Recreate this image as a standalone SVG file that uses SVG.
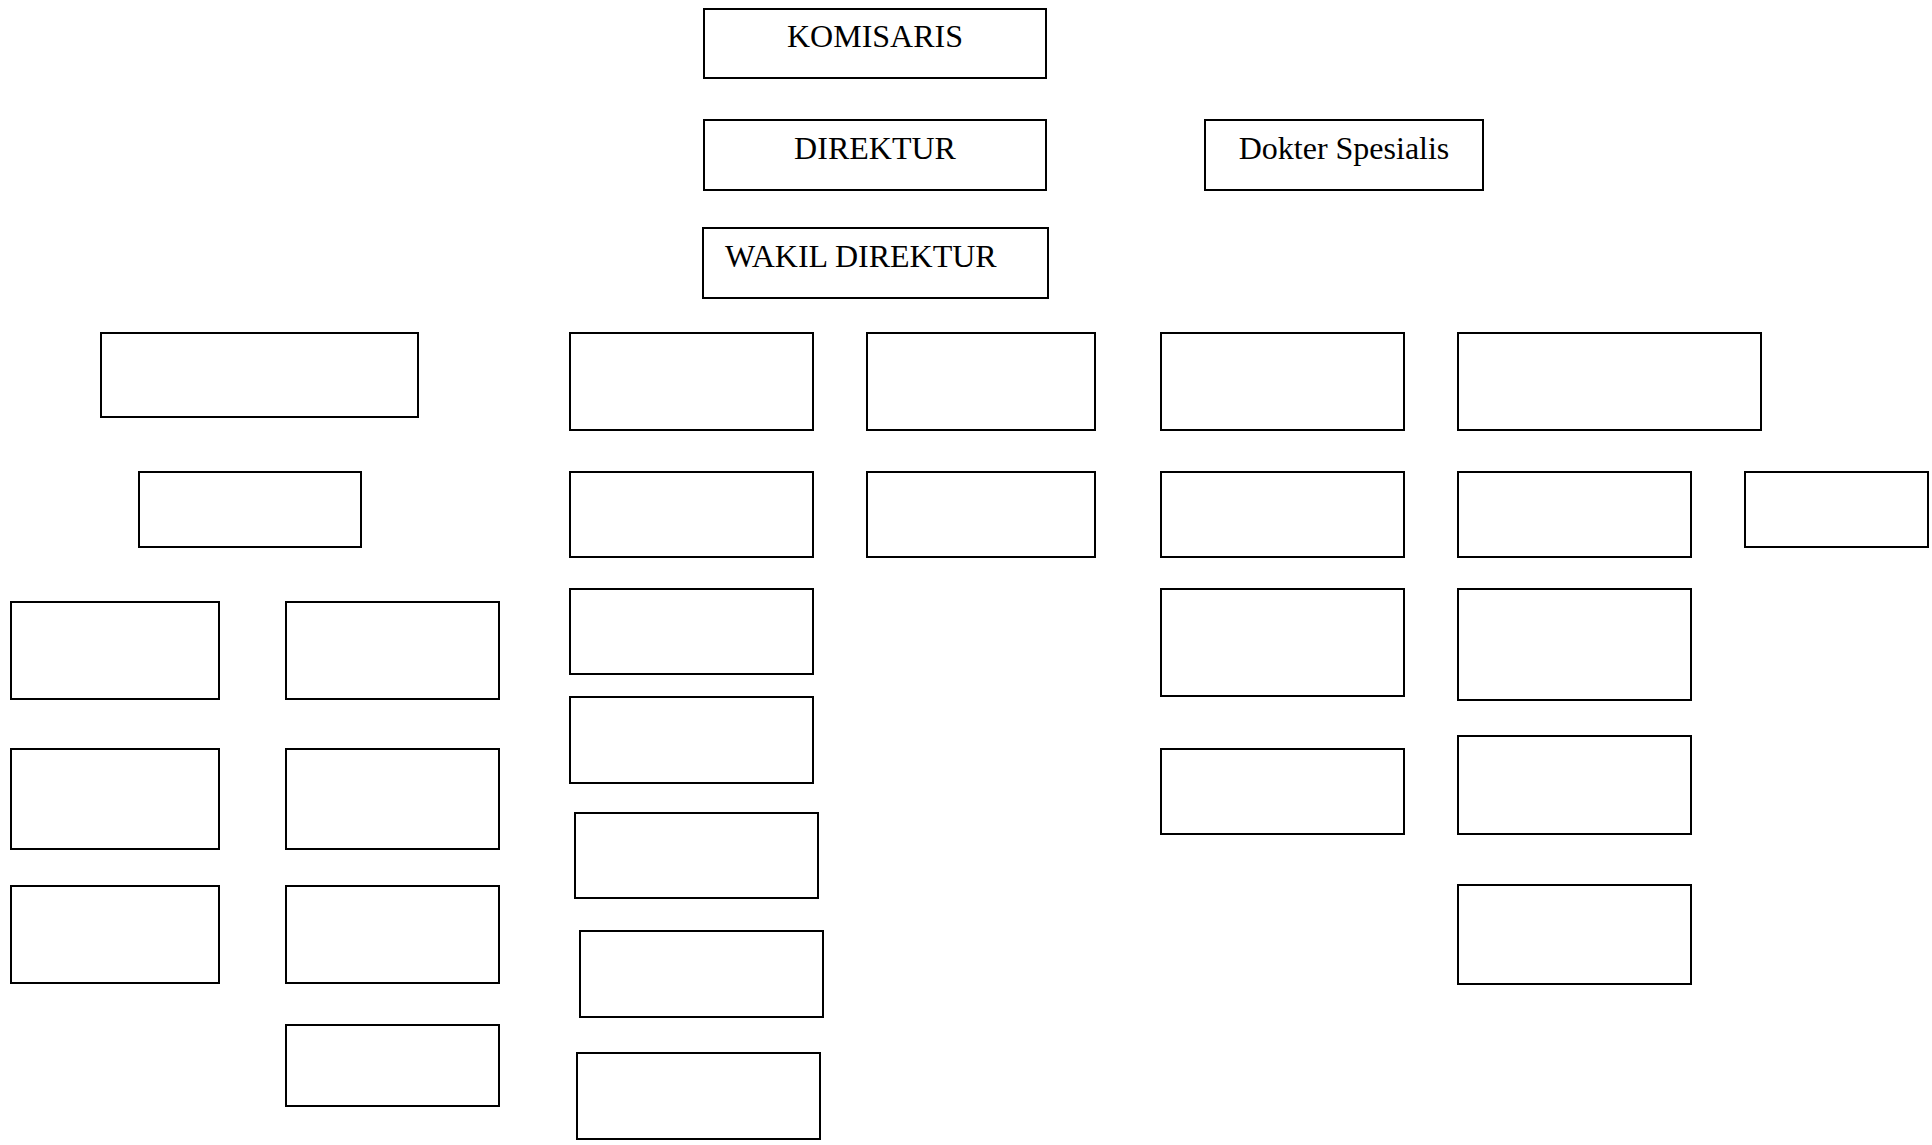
<svg xmlns="http://www.w3.org/2000/svg" width="1932" height="1145" viewBox="0 0 1932 1145">
<style>
.b{fill:#ffffff;stroke:#000000;stroke-width:2}
.t{font-family:"Liberation Serif","Times New Roman",serif;font-size:32px;fill:#000000}
.c{text-anchor:middle}
</style>
<rect x="0" y="0" width="1932" height="1145" fill="#ffffff"/>
<g id="connectors"></g>
<g id="komisaris"><rect class="b" x="704" y="9" width="342" height="69"/><text class="t c" x="875" y="47">KOMISARIS</text></g>
<g id="direktur"><rect class="b" x="704" y="120" width="342" height="70"/><text class="t c" x="875" y="159">DIREKTUR</text></g>
<g id="wakil-direktur"><rect class="b" x="703" y="228" width="345" height="70"/><text class="t" x="725" y="267">WAKIL DIREKTUR</text></g>
<g id="dokter-spesialis"><rect class="b" x="1205" y="120" width="278" height="70"/><text class="t c" x="1344" y="159">Dokter Spesialis</text></g>

<g id="a1"><rect class="b" x="101" y="333" width="317" height="84"/></g>
<g id="a2"><rect class="b" x="139" y="472" width="222" height="75"/></g>
<g id="a3"><rect class="b" x="11" y="602" width="208" height="97"/></g>
<g id="a4"><rect class="b" x="11" y="749" width="208" height="100"/></g>
<g id="a5"><rect class="b" x="11" y="886" width="208" height="97"/></g>
<g id="a6"><rect class="b" x="286" y="602" width="213" height="97"/></g>
<g id="a7"><rect class="b" x="286" y="749" width="213" height="100"/></g>
<g id="a8"><rect class="b" x="286" y="886" width="213" height="97"/></g>
<g id="a9"><rect class="b" x="286" y="1025" width="213" height="81"/></g>

<g id="b1"><rect class="b" x="570" y="333" width="243" height="97"/></g>
<g id="b2"><rect class="b" x="570" y="472" width="243" height="85"/></g>
<g id="b3"><rect class="b" x="570" y="589" width="243" height="85"/></g>
<g id="b4"><rect class="b" x="570" y="697" width="243" height="86"/></g>
<g id="b5"><rect class="b" x="575" y="813" width="243" height="85"/></g>
<g id="b6"><rect class="b" x="580" y="931" width="243" height="86"/></g>
<g id="b7"><rect class="b" x="577" y="1053" width="243" height="86"/></g>

<g id="c1"><rect class="b" x="867" y="333" width="228" height="97"/></g>
<g id="c2"><rect class="b" x="867" y="472" width="228" height="85"/></g>

<g id="d1"><rect class="b" x="1161" y="333" width="243" height="97"/></g>
<g id="d2"><rect class="b" x="1161" y="472" width="243" height="85"/></g>
<g id="d3"><rect class="b" x="1161" y="589" width="243" height="107"/></g>
<g id="d4"><rect class="b" x="1161" y="749" width="243" height="85"/></g>

<g id="e1"><rect class="b" x="1458" y="333" width="303" height="97"/></g>
<g id="e2"><rect class="b" x="1458" y="472" width="233" height="85"/></g>
<g id="e3"><rect class="b" x="1458" y="589" width="233" height="111"/></g>
<g id="e4"><rect class="b" x="1458" y="736" width="233" height="98"/></g>
<g id="e5"><rect class="b" x="1458" y="885" width="233" height="99"/></g>

<g id="f1"><rect class="b" x="1745" y="472" width="183" height="75"/></g>
</svg>
